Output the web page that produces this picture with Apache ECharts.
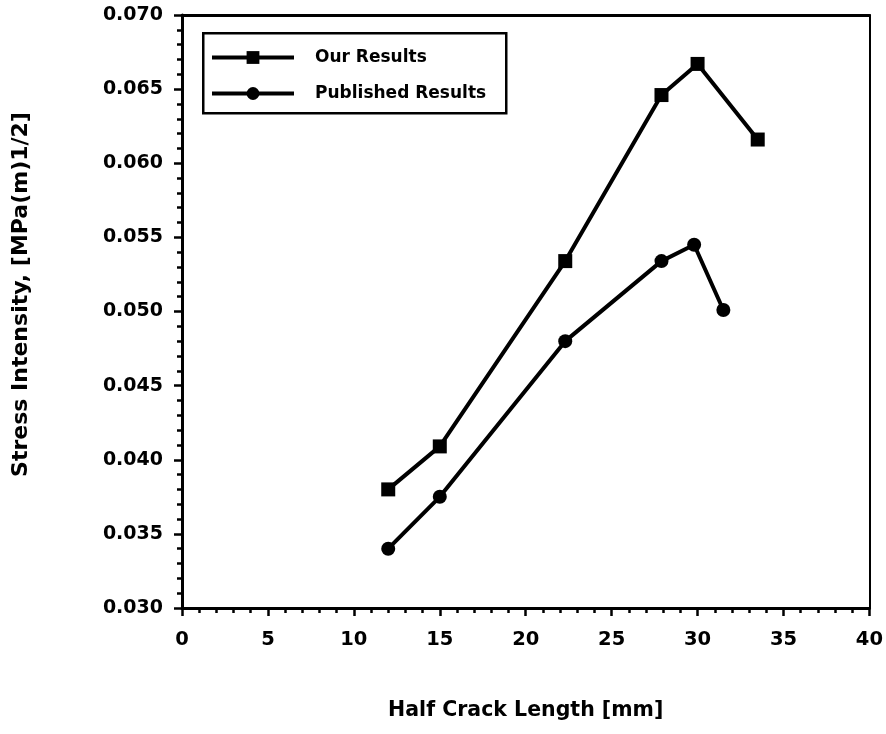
<!DOCTYPE html>
<html>
<head>
<meta charset="utf-8">
<script src="https://cdn.jsdelivr.net/npm/echarts@6/dist/echarts.min.js"></script>
<style>
html,body{margin:0;padding:0;background:#fff;}
#chart{width:886px;height:734px;}
</style>
</head>
<body>
<div id="chart"></div>
<script>
// Data
var seriesNames = ['Our Results', 'Published Results'];
var ourX = [12, 15, 22.3, 27.9, 30, 33.5];
var ourY = [0.038, 0.0409, 0.0534, 0.0646, 0.0667, 0.0616];
var pubX = [12, 15, 22.3, 27.9, 29.8, 31.5];
var pubY = [0.034, 0.0375, 0.048, 0.0534, 0.0545, 0.0501];
var xTitle = 'Half Crack Length [mm]';
var yTitle = 'Stress Intensity, [MPa(m)1/2]';

function pairs(xs, ys) { return xs.map(function (x, i) { return [x, ys[i]]; }); }

var FONT = 'DejaVu Sans';
var chart = echarts.init(document.getElementById('chart'), null, {renderer: 'canvas'});
chart.setOption({
  animation: false,
  backgroundColor: '#fff',
  grid: {left: 182, right: 16, top: 15, bottom: 126, containLabel: false},
  graphic: [{
    type: 'rect', left: 202, top: 32, z: 10,
    shape: {width: 303, height: 80},
    style: {fill: 'transparent', stroke: '#000', lineWidth: 2.5}
  }],
  legend: {
    orient: 'vertical', left: 205, top: 44,
    itemWidth: 82, itemHeight: 16, itemGap: 19,
    data: seriesNames,
    lineStyle: {width: 4, color: '#000'},
    textStyle: {fontFamily: FONT, fontWeight: 'bold', fontSize: 17, color: '#000', padding: [0, 0, 0, 16]}
  },
  xAxis: [{
    type: 'value', min: 0, max: 40, interval: 5,
    name: xTitle, nameLocation: 'middle', nameGap: 92,
    nameTextStyle: {fontFamily: FONT, fontWeight: 'bold', fontSize: 20.5, color: '#000'},
    axisLine: {onZero: false, lineStyle: {color: '#000', width: 3}},
    axisTick: {inside: false, length: 8, lineStyle: {color: '#000', width: 2.5}},
    minorTick: {show: true, splitNumber: 5, length: 5, lineStyle: {color: '#000', width: 2.5}},
    axisLabel: {margin: 22, fontFamily: FONT, fontWeight: 'bold', fontSize: 19.5, color: '#000'},
    splitLine: {show: false}
  }, {
    type: 'value', min: 0, max: 40, position: 'top',
    axisLine: {onZero: false, lineStyle: {color: '#000', width: 3}},
    axisTick: {show: false}, axisLabel: {show: false}, splitLine: {show: false}
  }],
  yAxis: [{
    type: 'value', min: 0.03, max: 0.07, interval: 0.005,
    name: yTitle, nameLocation: 'middle', nameGap: 150, nameRotate: 90,
    nameTextStyle: {fontFamily: FONT, fontWeight: 'bold', fontSize: 22, color: '#000', padding: [0, 0, 0, 34]},
    axisLine: {onZero: false, lineStyle: {color: '#000', width: 3}},
    axisTick: {inside: false, length: 8, lineStyle: {color: '#000', width: 2.5}},
    minorTick: {show: true, splitNumber: 5, length: 5, lineStyle: {color: '#000', width: 2.5}},
    axisLabel: {margin: 19, fontFamily: FONT, fontWeight: 'bold', fontSize: 19, color: '#000',
      formatter: function (v) { return v.toFixed(3); }},
    splitLine: {show: false}
  }, {
    type: 'value', min: 0.03, max: 0.07, position: 'right',
    axisLine: {onZero: false, lineStyle: {color: '#000', width: 2}},
    axisTick: {show: false}, axisLabel: {show: false}, splitLine: {show: false}
  }],
  series: [{
    name: seriesNames[0], type: 'line', data: pairs(ourX, ourY),
    symbol: 'rect', symbolSize: 14,
    lineStyle: {color: '#000', width: 4},
    itemStyle: {color: '#000'}
  }, {
    name: seriesNames[1], type: 'line', data: pairs(pubX, pubY),
    symbol: 'circle', symbolSize: 14,
    lineStyle: {color: '#000', width: 4},
    itemStyle: {color: '#000'}
  }]
});
</script>
</body>
</html>
